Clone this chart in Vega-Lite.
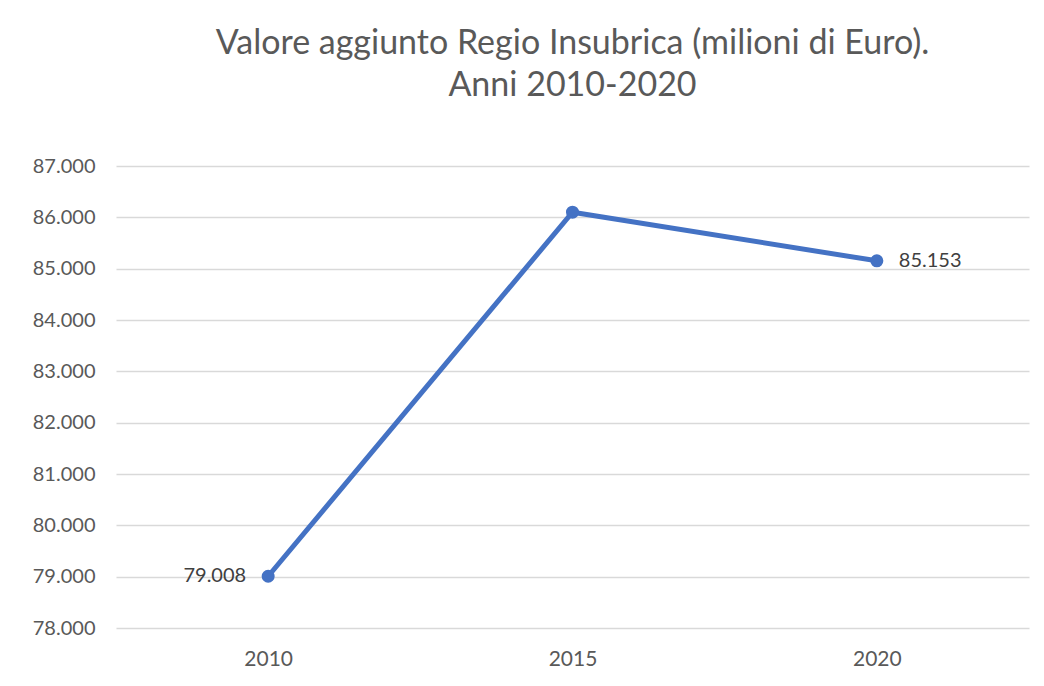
{
  "$schema": "https://vega.github.io/schema/vega-lite/v6.json",
  "width": 913,
  "height": 462,
  "autosize": {"type": "none"},
  "padding": {"left": 116, "top": 166, "right": 15, "bottom": 58},
  "background": "white",
  "config": {
    "view": {"stroke": null},
    "locale": {"number": {"decimal": ",", "thousands": ".", "grouping": [3], "currency": ["€", ""]}},
    "font": "Lato"
  },
  "title": {
    "text": ["Valore aggiunto Regio Insubrica (milioni di Euro).", "Anni 2010-2020"],
    "font": "Lato",
    "fontSize": 34,
    "fontWeight": "normal",
    "color": "#595959",
    "lineHeight": 42,
    "anchor": "middle",
    "offset": 53
  },
  "data": {
    "values": [
      {"anno": "2010", "valore": 79008, "etichetta": "left"},
      {"anno": "2015", "valore": 86100, "etichetta": "none"},
      {"anno": "2020", "valore": 85153, "etichetta": "right"}
    ]
  },
  "encoding": {
    "x": {
      "field": "anno",
      "type": "ordinal",
      "scale": {"type": "point", "padding": 0.5},
      "axis": {
        "title": null,
        "labelAngle": 0,
        "domain": false,
        "ticks": false,
        "grid": false,
        "labelFont": "Lato",
        "labelFontSize": 21,
        "labelColor": "#595959",
        "labelPadding": 20
      }
    },
    "y": {
      "field": "valore",
      "type": "quantitative",
      "scale": {"domain": [78000, 87000], "zero": false, "nice": false},
      "axis": {
        "title": null,
        "values": [78000, 79000, 80000, 81000, 82000, 83000, 84000, 85000, 86000, 87000],
        "format": ",.0f",
        "domain": false,
        "ticks": false,
        "grid": true,
        "gridColor": "#d9d9d9",
        "gridWidth": 1.5,
        "labelFont": "Lato",
        "labelFontSize": 20,
        "labelColor": "#595959",
        "labelPadding": 21
      }
    }
  },
  "layer": [
    {
      "mark": {"type": "line", "color": "#4472C4", "strokeWidth": 5, "point": {"filled": true, "size": 170, "color": "#4472C4"}}
    },
    {
      "transform": [{"filter": "datum.etichetta == 'left'"}],
      "mark": {"type": "text", "align": "right", "baseline": "middle", "dx": -22, "font": "Lato", "fontSize": 20, "color": "#404040"},
      "encoding": {"text": {"field": "valore", "type": "quantitative", "format": ",.0f"}}
    },
    {
      "transform": [{"filter": "datum.etichetta == 'right'"}],
      "mark": {"type": "text", "align": "left", "baseline": "middle", "dx": 22, "font": "Lato", "fontSize": 20, "color": "#404040"},
      "encoding": {"text": {"field": "valore", "type": "quantitative", "format": ",.0f"}}
    }
  ]
}
